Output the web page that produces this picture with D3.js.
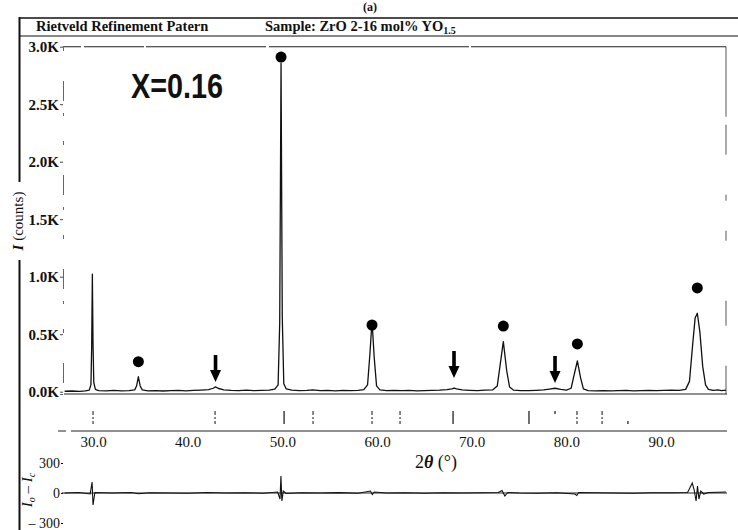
<!DOCTYPE html>
<html>
<head>
<meta charset="utf-8">
<script src="https://cdn.jsdelivr.net/npm/d3@7"></script>
<style>
  body { margin: 0; background: #fff; }
  svg { display: block; }
  text { font-family: "Liberation Serif", "Times New Roman", serif; fill: #111; }
</style>
</head>
<body>
<svg id="chart" width="738" height="530"></svg>
<script>
// Observed powder pattern: 2θ (degrees) and intensity (counts)
const obsAngle = [
  27.0, 27.8, 28.6, 29.2, 29.6, 29.78, 29.86, 29.93, 30.0, 30.08, 30.25, 30.6,
  31.4, 32.2, 33.0, 33.8, 34.4, 34.6, 34.79, 34.98, 35.2, 35.8, 36.6, 37.4,
  38.2, 39.0, 39.8, 40.6, 41.4, 42.2, 42.7, 42.94, 43.2, 43.8, 44.6, 45.4,
  46.2, 47.0, 47.8, 48.6, 49.2, 49.55, 49.72, 49.86, 49.99, 50.15, 50.4, 51.0,
  51.8, 52.6, 53.2, 54.0, 54.8, 55.6, 56.4, 57.2, 58.0, 58.6, 59.0, 59.25,
  59.47, 59.7, 59.95, 60.3, 61.0, 61.8, 62.6, 63.4, 64.2, 65.0, 65.8, 66.6,
  67.4, 67.9, 68.13, 68.4, 69.0, 69.8, 70.6, 71.4, 72.2, 72.7, 72.95, 73.34,
  73.7, 74.0, 74.4, 75.2, 76.0, 76.8, 77.6, 78.2, 78.8, 79.4, 80.0, 80.5,
  80.8, 81.16, 81.5, 81.8, 82.3, 83.1, 83.9, 84.7, 85.5, 86.3, 87.1, 87.9,
  88.7, 89.5, 90.3, 91.1, 91.9, 92.6, 93.0, 93.35, 93.6, 93.83, 94.1, 94.4,
  94.7, 95.0, 95.5, 96.0, 96.4, 96.86
];
const obsCounts = [
  4, 6, 3, 8, 14, 60, 400, 1023, 420, 80, 20, 10,
  8, 11, 7, 10, 16, 50, 130, 50, 16, 8, 10, 6,
  9, 12, 8, 11, 14, 18, 30, 42, 30, 16, 12, 10,
  13, 9, 12, 14, 22, 60, 600, 2858, 650, 70, 25, 14,
  10, 12, 15, 9, 11, 8, 12, 9, 11, 18, 60, 330,
  615, 300, 50, 16, 10, 12, 9, 11, 8, 10, 12, 14,
  18, 25, 32, 24, 15, 12, 10, 13, 15, 50, 200, 435,
  180, 40, 14, 10, 9, 12, 15, 22, 30, 20, 14, 30,
  140, 267, 120, 25, 10, 8, 10, 7, 9, 11, 8, 10,
  12, 9, 11, 13, 12, 20, 90, 420, 640, 682, 520, 220,
  60, 20, 12, 15, 10, 14
];

// Difference curve Io − Ic: 2θ (degrees) and counts
const diffAngle = [
  27.0, 28.5, 29.7, 29.9, 30.0, 30.2, 32.0, 34.0, 34.8, 36.0, 38.0, 40.0,
  42.0, 44.0, 46.0, 48.0, 49.5, 49.75, 49.85, 49.95, 50.1, 50.4, 52.0, 54.0,
  56.0, 58.0, 59.3, 59.5, 59.7, 61.0, 63.0, 65.0, 67.0, 69.0, 71.0, 72.8,
  73.2, 73.5, 73.8, 75.0, 77.0, 79.0, 80.9, 81.1, 81.3, 83.0, 85.0, 87.0,
  89.0, 91.0, 92.8, 93.3, 93.5, 93.7, 93.85, 94.0, 94.2, 94.5, 95.0, 96.86
];
const diffCounts = [
  0, 5, -10, 110, -120, 5, 0, 5, -8, 3, 0, -3,
  5, 0, 3, -2, 10, -60, 170, -80, 20, -5, 3, 0,
  4, -2, 20, -15, 10, 0, 3, -2, 3, 0, 2, 5,
  25, -30, 5, 0, -2, 3, -10, -25, 5, 2, 0, -2,
  3, 2, 5, 100, 30, -80, 70, -60, 20, -10, 5, 10
];

// Reflection positions (2θ) of the fitted phase
const braggMain = [50.18, 68.03, 76.05];
const braggMinor = [30.0, 42.89, 53.24, 59.47, 62.43, 81.12, 83.77];
const braggFaint = [78.8, 86.5];

// Peaks flagged with dots, and the counts level where each dot sits
const dotAngle = [34.79, 49.86, 59.47, 73.34, 81.16, 93.83];
const dotCounts = [261, 2910, 580, 571, 415, 902];

// Weak reflections pointed at by arrows, with the counts level of each tip
const arrowAngle = [42.94, 68.13, 78.8];
const arrowCounts = [84, 119, 76];

const xTicks = [30, 40, 50, 60, 70, 80, 90];
const yTicks = [0, 500, 1000, 1500, 2000, 2500, 3000];
const diffTicks = [-300, 0, 300];

const svg = d3.select("#chart");
svg.append("rect").attr("width", 738).attr("height", 530).attr("fill", "#fff");

const x = d3.scaleLinear().domain([27.04, 96.86]).range([65, 726]);
const y = d3.scaleLinear().domain([-20, 3000]).range([394, 46.7]);
const yd = d3.scaleLinear().domain([-300, 300]).range([523, 463]);

// ---- outer frame and header ----
svg.append("text").attr("x", 370).attr("y", 11).attr("text-anchor", "middle")
  .attr("font-size", 12).attr("font-weight", "bold").text("(a)");

const frame = svg.append("g").attr("stroke", "#111").attr("fill", "none");
frame.append("line").attr("x1", 19).attr("x2", 738).attr("y1", 18).attr("y2", 18).attr("stroke-width", 1.6);
frame.append("line").attr("x1", 19).attr("x2", 738).attr("y1", 36).attr("y2", 36).attr("stroke-width", 1.2);
frame.append("line").attr("x1", 19.5).attr("x2", 19.5).attr("y1", 17).attr("y2", 182).attr("stroke-width", 2);
frame.append("line").attr("x1", 19.5).attr("x2", 19.5).attr("y1", 260).attr("y2", 530).attr("stroke-width", 2);

svg.append("text").attr("x", 36).attr("y", 31).attr("font-size", 14.5).attr("font-weight", "bold")
  .text("Rietveld Refinement Patern");
const sample = svg.append("text").attr("x", 265).attr("y", 31).attr("font-size", 14.5).attr("font-weight", "bold");
sample.append("tspan").text("Sample: ZrO 2-16 mol% YO");
sample.append("tspan").attr("font-size", 10).attr("dy", 3).text("1.5");

// ---- main panel borders ----
const border = svg.append("g").attr("fill", "none").attr("stroke", "#222");
border.append("line").attr("x1", 63).attr("x2", 726).attr("y1", y(3000)).attr("y2", y(3000))
  .attr("stroke-width", 1.1).attr("stroke-dasharray", "18,3,60,2,120,3,200,2,300");
border.append("line").attr("x1", 726).attr("x2", 726).attr("y1", y(3000)).attr("y2", 394)
  .attr("stroke-width", 1).attr("stroke-dasharray", "70,8,30,40,6,30,10,60,25,40")
  .attr("stroke", "#555");
border.append("line").attr("x1", 64).attr("x2", 727).attr("y1", 394).attr("y2", 394).attr("stroke-width", 1.2);

// ---- y axis (counts) ----
const yAxis = svg.append("g").attr("transform", "translate(63,0)")
  .call(d3.axisLeft(y).tickValues(yTicks).tickSize(3).tickPadding(1)
    .tickFormat(v => d3.format(".1f")(v / 1000) + "K"));
yAxis.select(".domain").attr("stroke", "#666").attr("stroke-dasharray", "3,12,20,30,4,25");
yAxis.selectAll(".tick line").attr("stroke", "#444");
yAxis.selectAll(".tick text").style("font-family", "Liberation Serif, serif")
  .attr("font-size", 15).attr("font-weight", "bold").attr("fill", "#111");

svg.append("text").attr("transform", "translate(23,221) rotate(-90)")
  .attr("text-anchor", "middle").attr("font-size", 15)
  .html('<tspan font-style="italic" font-weight="bold">I</tspan> (counts)');

// ---- observed pattern ----
const pts = obsAngle.map((a, i) => [a, obsCounts[i]]);
svg.append("path").datum(pts)
  .attr("fill", "none").attr("stroke", "#111").attr("stroke-width", 1.3)
  .attr("stroke-linejoin", "round")
  .attr("d", d3.line().x(d => x(d[0])).y(d => y(d[1])));

// ---- dot markers ----
svg.append("g").selectAll("circle").data(dotAngle).join("circle")
  .attr("cx", d => x(d)).attr("cy", (d, i) => y(dotCounts[i])).attr("r", 5.5)
  .attr("fill", "#000");

// ---- arrow markers ----
const arrows = svg.append("g").selectAll("g").data(arrowAngle).join("g")
  .attr("transform", (d, i) => `translate(${x(d)},${y(arrowCounts[i])})`);
arrows.append("rect").attr("x", -1.8).attr("y", -27).attr("width", 3.6).attr("height", 17).attr("fill", "#000");
arrows.append("path").attr("d", "M-5.5,-12 L5.5,-12 L0,0 Z").attr("fill", "#000");

// ---- reflection tick row ----
const tickRow = svg.append("g").attr("stroke", "#111").attr("fill", "none");
tickRow.selectAll(".main").data(braggMain).join("line").attr("class", "main")
  .attr("x1", d => x(d)).attr("x2", d => x(d)).attr("y1", 411).attr("y2", 424).attr("stroke-width", 1.2);
tickRow.selectAll(".minor").data(braggMinor).join("line").attr("class", "minor")
  .attr("x1", d => x(d)).attr("x2", d => x(d)).attr("y1", 411).attr("y2", 424)
  .attr("stroke-width", 1).attr("stroke-dasharray", "4,2,2,2");
tickRow.selectAll(".faint").data(braggFaint).join("line").attr("class", "faint")
  .attr("x1", d => x(d)).attr("x2", d => x(d)).attr("y1", (d, i) => i ? 421 : 411)
  .attr("y2", (d, i) => i ? 424 : 414).attr("stroke-width", 1.2);

// ---- x axis ----
const xAxis = svg.append("g").attr("transform", "translate(0,431)")
  .call(d3.axisBottom(x).tickValues(xTicks).tickSize(0).tickPadding(5)
    .tickFormat(d3.format(".1f")));
xAxis.select(".domain").attr("stroke", "#222").attr("stroke-width", 1.2)
  .attr("d", "M58,0H727").attr("stroke-dasharray", "8,5,700");
xAxis.selectAll(".tick text").style("font-family", "Liberation Serif, serif")
  .attr("font-size", 15).attr("fill", "#111");

const xt = svg.append("text").attr("x", 436).attr("y", 468).attr("text-anchor", "middle").attr("font-size", 18);
xt.append("tspan").text("2");
xt.append("tspan").attr("font-style", "italic").attr("font-weight", "bold").text("θ");
xt.append("tspan").text(" (°)");

// ---- difference panel ----
const dAxis = svg.append("g").attr("transform", "translate(63,0)")
  .call(d3.axisLeft(yd).tickValues(diffTicks).tickSize(2).tickPadding(1)
    .tickFormat(v => v < 0 ? "\u2013 " + Math.abs(v) : String(v)));
dAxis.select(".domain").remove();
dAxis.selectAll(".tick text").style("font-family", "Liberation Serif, serif")
  .attr("font-size", 14).attr("fill", "#111");

svg.append("line").attr("x1", 62).attr("x2", 727).attr("y1", yd(0)).attr("y2", yd(0))
  .attr("stroke", "#222").attr("stroke-width", 1);

const dpts = diffAngle.map((a, i) => [a, diffCounts[i]]);
svg.append("path").datum(dpts)
  .attr("fill", "none").attr("stroke", "#111").attr("stroke-width", 1.1)
  .attr("d", d3.line().x(d => x(d[0])).y(d => yd(d[1])));

const dl = svg.append("text").attr("transform", "translate(32,490) rotate(-90)")
  .attr("text-anchor", "middle").attr("font-size", 15).attr("font-style", "italic");
dl.append("tspan").text("I");
dl.append("tspan").attr("font-size", 10).attr("dy", 3).text("o");
dl.append("tspan").attr("dy", -3).attr("font-style", "normal").text(" \u2013 ");
dl.append("tspan").text("I");
dl.append("tspan").attr("font-size", 10).attr("dy", 3).text("c");

// ---- composition label ----
svg.append("text").attr("x", 131).attr("y", 98)
  .style("font-family", "'Liberation Sans', Arial, sans-serif")
  .attr("font-weight", "bold").attr("font-size", 35)
  .attr("textLength", 92).attr("lengthAdjust", "spacingAndGlyphs")
  .text("X=0.16");
</script>
</body>
</html>
